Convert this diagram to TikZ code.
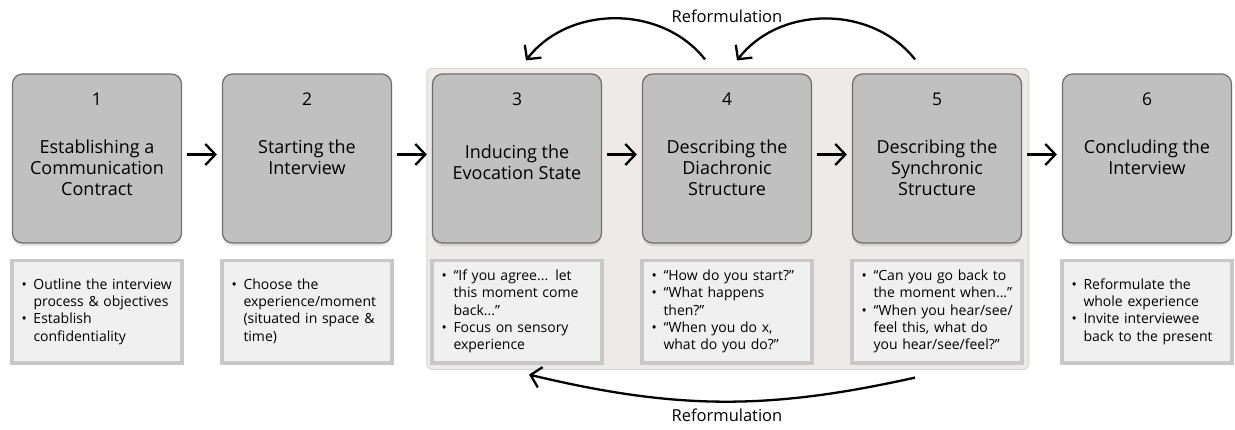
\documentclass[tikz,border=0pt]{standalone}
\usepackage{fontspec}
\setmainfont{Open Sans}
\usetikzlibrary{positioning,arrows.meta,shadows,fit,backgrounds}

\definecolor{stagefill}{HTML}{C0C0C0}
\definecolor{stageline}{HTML}{6E6E6E}
\definecolor{notefill}{HTML}{F0F0F0}
\definecolor{noteline}{HTML}{C8C8C8}
\definecolor{panelfill}{HTML}{EEEAE9}
\definecolor{panelline}{HTML}{D6D4D3}

% bullet list: one row per printed line
\newenvironment{ptlist}{\begin{tabular}{@{}p{12pt}@{}l@{}}}{\end{tabular}}
\newcommand{\pt}{\textbullet}

\begin{document}
\begin{tikzpicture}[x=1pt,y=-1pt,node distance=39.8pt,
	stage/.style={draw=stageline,line width=1.2pt,fill=stagefill,rounded corners=10pt,
		minimum width=169pt,minimum height=169pt,
		drop shadow={opacity=0.2,shadow xshift=0pt,shadow yshift=-3pt}},
	num/.style={font=\fontsize{17.5}{21}\selectfont},
	ttl/.style={font=\fontsize{18}{21}\selectfont,align=center,anchor=north,inner sep=0pt},
	note/.style={draw=noteline,line width=3.5pt,fill=notefill,minimum width=170pt,
		minimum height=102.5pt,text width=151pt,inner sep=0pt,
		font=\fontsize{14}{17.3}\selectfont},
	panel/.style={draw=panelline,line width=1pt,fill=panelfill,rounded corners=6pt,inner sep=5pt},
	flow/.style={-{Straight Barb[length=10pt,width=21pt]},line width=2.3pt,shorten <=5pt,shorten >=5pt},
	reform/.style={-{Straight Barb[length=10pt,width=21pt]},line width=2.3pt},
	lbl/.style={font=\fontsize{16.5}{19}\selectfont}]
	\useasboundingbox (0,0) rectangle (1235,429);
	% stages
	\node[stage] (s1) at (97,158.5) {};
	\node[stage] (s2) [right=of s1] {};
	\node[stage] (s3) [right=of s2] {};
	\node[stage] (s4) [right=of s3] {};
	\node[stage] (s5) [right=of s4] {};
	\node[stage] (s6) [right=of s5] {};
	% numbers and titles
	\foreach \i in {1,...,6}
		\node[num] (n\i) at ([yshift=-26pt]s\i.north) {\i};
	\node[ttl] (h1) at ([yshift=-66pt]s1.north) {Establishing a\\Communication\\Contract};
	\node[ttl] (h2) at ([yshift=-66pt]s2.north) {Starting the\\Interview};
	\node[ttl] (h3) at ([yshift=-71pt]s3.north) {Inducing the\\Evocation State};
	\node[ttl] (h4) at ([yshift=-66pt]s4.north) {Describing the\\Diachronic\\Structure};
	\node[ttl] (h5) at ([yshift=-66pt]s5.north) {Describing the\\Synchronic\\Structure};
	\node[ttl] (h6) at ([yshift=-66pt]s6.north) {Concluding the\\Interview};
	% notes
	\node[note] (t1) [below=15pt of s1] {\begin{ptlist}
		\pt & Outline the interview\\ & process \& objectives\\
		\pt & Establish\\ & confidentiality\end{ptlist}};
	\node[note] (t2) [below=15pt of s2] {\begin{ptlist}
		\pt & Choose the\\ & experience/moment\\ & (situated in space \&\\ & time)\end{ptlist}};
	\node[note] (t3) [below=15pt of s3] {\begin{ptlist}
		\pt & “If you agree... let\\ & this moment come\\ & back...”\\
		\pt & Focus on sensory\\ & experience\end{ptlist}};
	\node[note] (t4) [below=15pt of s4] {\begin{ptlist}
		\pt & “How do you start?”\\
		\pt & “What happens\\ & then?”\\
		\pt & “When you do x,\\ & what do you do?”\end{ptlist}};
	\node[note] (t5) [below=15pt of s5] {\begin{ptlist}
		\pt & “Can you go back to\\ & the moment when...”\\
		\pt & “When you hear/see/\\ & feel this, what do\\ & you hear/see/feel?”\end{ptlist}};
	\node[note] (t6) [below=15pt of s6] {\begin{ptlist}
		\pt & Reformulate the\\ & whole experience\\
		\pt & Invite interviewee\\ & back to the present\end{ptlist}};
	\begin{scope}[on background layer]
		\node[panel,fit=(s3)(t5)] (p) {};
	\end{scope}
	% forward arrows
	\foreach \a/\b in {s1/s2,s2/s3,s3/s4,s4/s5,s5/s6}
		\draw[flow] ([yshift=4pt]\a.east) -- ([yshift=4pt]\b.west);
	% reformulation loops
	\coordinate (a4) at ([xshift=-22pt,yshift=14pt]s4.north);
	\coordinate (a3) at ([xshift=9pt,yshift=13pt]s3.north);
	\coordinate (a5) at ([xshift=-22pt,yshift=14pt]s5.north);
	\coordinate (b4) at ([xshift=10pt,yshift=13pt]s4.north);
	\coordinate (c5) at ([xshift=-22pt,yshift=-13pt]t5.south);
	\coordinate (c3) at ([xshift=12pt,yshift=-10pt]t3.south);
	\draw[reform] (a4) to[bend right=52] (a3);
	\draw[reform] (a5) to[bend right=52] (b4);
	\draw[reform] (c5) to[bend left=13] (c3);
	\node[lbl] (rtop) at ([yshift=57pt]s4.north) {Reformulation};
	\node[lbl] (rbot) at ([yshift=-51pt]t4.south) {Reformulation};
\end{tikzpicture}
\end{document}
